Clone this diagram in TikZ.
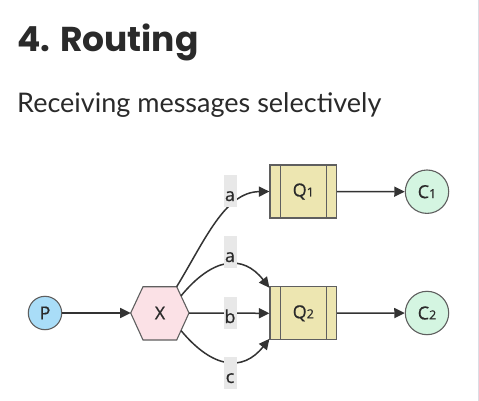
\documentclass[tikz,border=0pt]{standalone}
\usepackage{fontspec}
\setmainfont{Open Sans}
\newfontfamily\nodefam[FakeBold=0.7]{Open Sans}
\newfontfamily\titlefont{Poppins}
\newfontfamily\subfont{Lato}
\usetikzlibrary{arrows.meta,calc}
\definecolor{edgec}{HTML}{333333}
\definecolor{textc}{HTML}{2A2A2A}
\definecolor{bordc}{HTML}{5F5F5F}
\definecolor{pfill}{HTML}{A9DDF8}
\definecolor{xfill}{HTML}{FBE1E6}
\definecolor{qfill}{HTML}{EDE6B1}
\definecolor{cfill}{HTML}{D4F5E1}
\definecolor{lblbg}{HTML}{E8E8E8}
\definecolor{framec}{HTML}{DCDCE4}
\newcommand\smalldig[1]{{\fontsize{12.5}{12.5}\selectfont #1}}
\newcommand\nodefont{\nodefam\fontsize{18}{21}\selectfont}
\tikzset{
  conn/.style={draw=edgec, line width=1.5pt, -{Triangle[length=10.5pt,width=10pt]}},
  nodetext/.style={font=\nodefont, text=textc},
  prod/.style={circle, draw=bordc, line width=1.1pt, fill=pfill, minimum size=33.4pt, inner sep=0pt, nodetext},
  cons/.style={circle, draw=bordc, line width=1.1pt, fill=cfill, minimum size=43.4pt, inner sep=0pt, nodetext},
  queue/.style={rectangle, draw=bordc, line width=1.1pt, fill=qfill, minimum width=66.7pt, minimum height=53pt, inner sep=0pt, nodetext},
  lbl/.style={fill=lblbg, inner xsep=0pt, inner ysep=0pt, minimum width=13pt, text height=26pt, text depth=6pt, align=center, nodetext},
}
\begin{document}
\begin{tikzpicture}[x=1pt,y=-1pt]
\useasboundingbox (0,0) rectangle (479,401);
\fill[white] (0,0) rectangle (479,401);
\draw[framec, line width=1pt] (478.5,0) -- (478.5,401);

\node[anchor=base west, inner sep=0pt, text=textc] (title) at (17,51.7) {\titlefont\bfseries\fontsize{34.5}{35}\selectfont 4. Routing};
\node[anchor=base west, inner sep=0pt, text=textc] (subtitle) at (17,113) {\subfont\fontsize{27}{27}\selectfont Receiving messages selectively};

% hexagon exchange
\coordinate (Xw) at (130.7,313);
\coordinate (Xnw) at (143,286.7);
\coordinate (Xne) at (176.7,286.7);
\coordinate (Xe) at (189,313);
\coordinate (Xse) at (176.7,340);
\coordinate (Xsw) at (143,340);
\draw[draw=bordc, line width=1.1pt, fill=xfill] (Xw) -- (Xnw) -- (Xne) -- (Xe) -- (Xse) -- (Xsw) -- cycle;
\node[nodetext] (X) at (160,313) {X};

\node[prod] (P) at (45,313) {P};
\node[queue] (Q1) at (303.3,191.5) {Q\smalldig{1}};
\node[queue] (Q2) at (303.3,313.3) {Q\smalldig{2}};
\foreach \q in {Q1,Q2}{
  \draw[bordc, line width=1.1pt] ([xshift=10.7pt]\q.north west) -- ([xshift=10.7pt]\q.south west);
  \draw[bordc, line width=1.1pt] ([xshift=-10.7pt]\q.north east) -- ([xshift=-10.7pt]\q.south east);
}
\node[cons] (C1) at (427,191.7) {C\smalldig{1}};
\node[cons] (C2) at (427,313) {C\smalldig{2}};

% connectors
\draw[conn] (P) -- (Xw);
\draw[conn] (Xne) .. controls (205,240) and (225,192) .. (Q1.west);
\coordinate (Xa) at ($(Xne)!0.35!(Xe)$);
\coordinate (Xc) at ($(Xse)!0.35!(Xe)$);
\draw[conn] (Xa) .. controls (213,257) and (243,254) .. ([yshift=-1.5pt]Q2.north west);
\draw[conn] (Xe) -- (Q2.west);
\draw[conn] (Xc) .. controls (213,369) and (243,372) .. ([yshift=1.5pt]Q2.south west);
\draw[conn] (Q1) -- (C1);
\draw[conn] (Q2) -- (C2);

% labels
\node[lbl] (la1) at (230,191) {a};
\node[lbl] (la2) at (230,252) {a};
\node[lbl] (lb) at (230,313) {b};
\node[lbl] (lc) at (230,373) {c};
\end{tikzpicture}
\end{document}
